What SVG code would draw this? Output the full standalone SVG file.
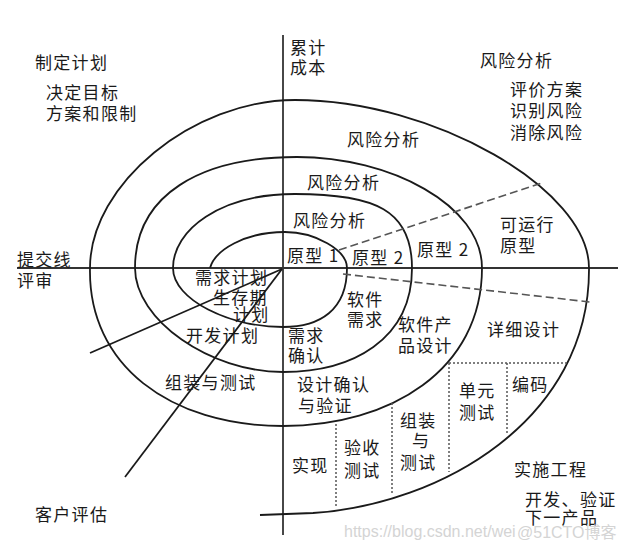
<svg xmlns="http://www.w3.org/2000/svg" width="624" height="550" viewBox="0 0 624 550">
<style>
.ln{fill:none;stroke:#1a1a1a;stroke-width:1.8}
.ax{fill:none;stroke:#333;stroke-width:1.8}
.da{fill:none;stroke:#555;stroke-width:1.6;stroke-dasharray:8 4}
.dt{fill:none;stroke:#555;stroke-width:1.5;stroke-dasharray:2 2}
text{font-family:"Noto Sans CJK SC","Noto Sans",sans-serif;font-size:17px;letter-spacing:1.3px;fill:#1a1a1a}
.wm{font-family:"Liberation Sans","Noto Sans CJK SC",sans-serif;font-size:16px;letter-spacing:0;fill:#d4d4d4}
</style>
<rect width="624" height="550" fill="#fff"/>
<g id="axes">
<line class="ax" x1="283" y1="35" x2="283" y2="535"/>
<line class="ax" x1="17" y1="268" x2="618" y2="268"/>
</g>
<g id="spiral">
<path class="ln" d="M210,268 C215,250 245,232 285,232 C315,232 347,250 347,268 C347,310 320,327 283,327 C230,327 173,300 173,268 C173,230 220,194 295,194 C375,194 412,210 412,268 C412,340 352,372 283,372 C210,372 135,320 135,268 C135,195 200,157 297,157 C390,157 482,205 482,268 C482,370 390,426 283,426 C170,426 88,365 90,268 C90,184 193,100 295,100 C433,100 589,189 589,268 C590,420 440,505 313,513 L260,515"/>
</g>
<g id="connectors">
<line class="da" x1="339" y1="250" x2="542" y2="183"/>
<line class="da" x1="343" y1="274" x2="590" y2="302"/>
<line class="ln" x1="282" y1="269" x2="90" y2="353"/>
<line class="ln" x1="282" y1="269" x2="125" y2="477"/>
<line class="dt" x1="449" y1="363" x2="568" y2="363"/>
<line class="dt" x1="449" y1="363" x2="449" y2="472"/>
<line class="dt" x1="507" y1="363" x2="507" y2="433"/>
<line class="dt" x1="392" y1="403" x2="392" y2="495"/>
<line class="dt" x1="336" y1="424" x2="336" y2="508"/>
</g>
<g id="labels">
<text x="35" y="68.5">制定计划</text>
<text x="46" y="98.5">决定目标</text>
<text x="46" y="119.5">方案和限制</text>
<text x="290" y="53.5">累计</text>
<text x="290" y="73.5">成本</text>
<text x="480" y="66.5">风险分析</text>
<text x="510" y="95.5">评价方案</text>
<text x="510" y="116.5">识别风险</text>
<text x="510" y="138.5">消除风险</text>
<text x="347" y="145.5">风险分析</text>
<text x="307" y="188.5">风险分析</text>
<text x="293" y="226.5">风险分析</text>
<text x="287" y="261.5">原型 1</text>
<text x="352" y="263.5">原型 2</text>
<text x="417" y="255.5">原型 2</text>
<text x="500" y="230.5">可运行</text>
<text x="500" y="251.5">原型</text>
<text x="17" y="265.5">提交线</text>
<text x="17" y="286.5">评审</text>
<text x="195" y="283.5">需求计划</text>
<text x="213" y="303.5">生存期</text>
<text x="233" y="320.5">计划</text>
<text x="186" y="342">开发计划</text>
<text x="165" y="388.5">组装与测试</text>
<text x="35" y="520.5">客户评估</text>
<text x="347" y="305.5">软件</text>
<text x="347" y="325.5">需求</text>
<text x="288" y="341.5">需求</text>
<text x="288" y="361.5">确认</text>
<text x="398" y="330.5">软件产</text>
<text x="398" y="351.5">品设计</text>
<text x="297" y="390.5">设计确认</text>
<text x="298" y="411.5">与验证</text>
<text x="487" y="335.5">详细设计</text>
<text x="459" y="396.5">单元</text>
<text x="459" y="418.5">测试</text>
<text x="512" y="390.5">编码</text>
<text x="400" y="426.5">组装</text>
<text x="412" y="446.5">与</text>
<text x="400" y="468.5">测试</text>
<text x="344" y="453.5">验收</text>
<text x="344" y="476.5">测试</text>
<text x="292" y="471.5">实现</text>
<text x="514" y="475.5">实施工程</text>
<text x="525" y="505.5">开发、验证</text>
<text x="525" y="523.5">下一产品</text>
</g>
<g id="watermark">
<text class="wm" x="344" y="537">https://blog.csdn.net/wei</text>
<text class="wm" x="517" y="538">@51CTO博客</text>
</g>
</svg>
